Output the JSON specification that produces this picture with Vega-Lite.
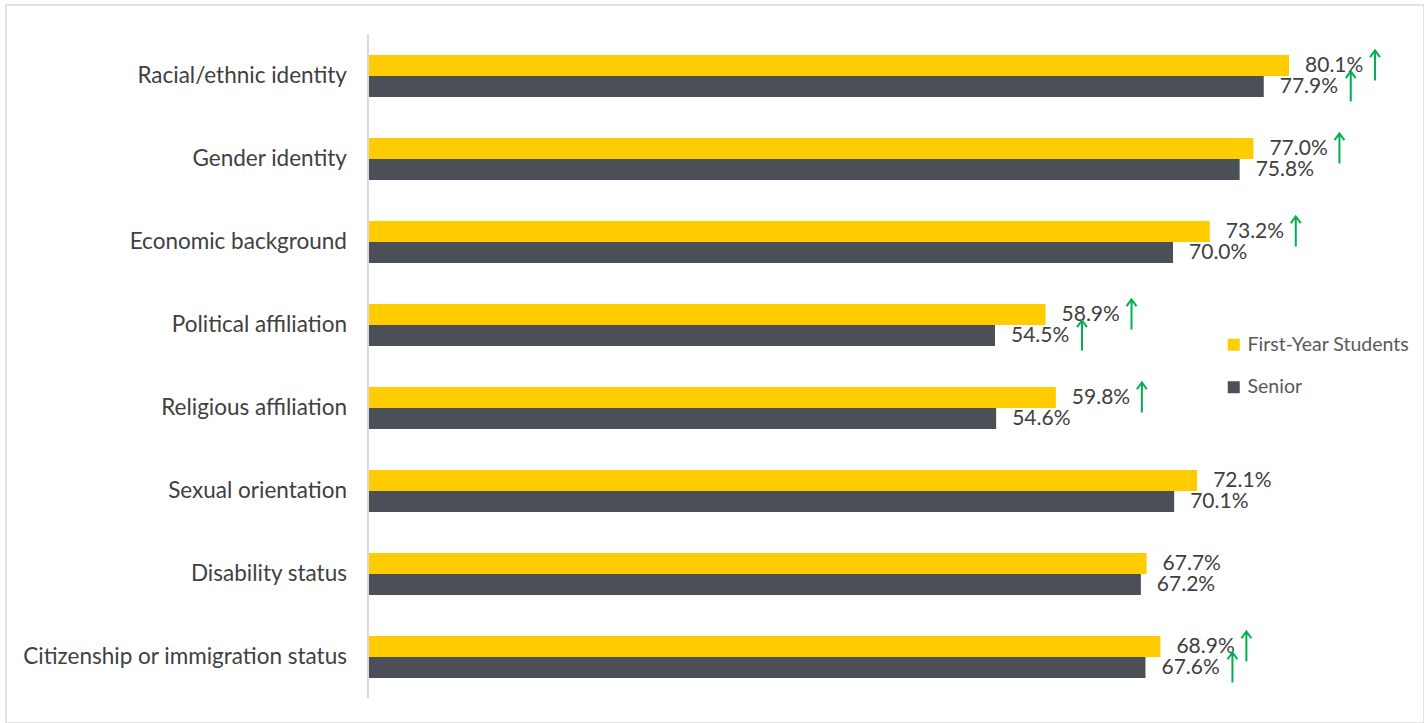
{
  "$schema": "https://vega.github.io/schema/vega-lite/v6.json",
  "width": 1418,
  "height": 718,
  "autosize": "none",
  "padding": {"left": 6, "top": 5, "right": 0, "bottom": 0},
  "background": "white",
  "config": {
    "view": {"stroke": "#D9D9D9", "strokeWidth": 1.5},
    "font": "Lato"
  },
  "data": {
    "values": [
      {"category": "Racial/ethnic identity", "group": "First-Year Students", "value": 0.801, "up": true},
      {"category": "Racial/ethnic identity", "group": "Senior", "value": 0.779, "up": true},
      {"category": "Gender identity", "group": "First-Year Students", "value": 0.770, "up": true},
      {"category": "Gender identity", "group": "Senior", "value": 0.758, "up": false},
      {"category": "Economic background", "group": "First-Year Students", "value": 0.732, "up": true},
      {"category": "Economic background", "group": "Senior", "value": 0.700, "up": false},
      {"category": "Political affiliation", "group": "First-Year Students", "value": 0.589, "up": true},
      {"category": "Political affiliation", "group": "Senior", "value": 0.545, "up": true},
      {"category": "Religious affiliation", "group": "First-Year Students", "value": 0.598, "up": true},
      {"category": "Religious affiliation", "group": "Senior", "value": 0.546, "up": false},
      {"category": "Sexual orientation", "group": "First-Year Students", "value": 0.721, "up": false},
      {"category": "Sexual orientation", "group": "Senior", "value": 0.701, "up": false},
      {"category": "Disability status", "group": "First-Year Students", "value": 0.677, "up": false},
      {"category": "Disability status", "group": "Senior", "value": 0.672, "up": false},
      {"category": "Citizenship or immigration status", "group": "First-Year Students", "value": 0.689, "up": true},
      {"category": "Citizenship or immigration status", "group": "Senior", "value": 0.676, "up": true}
    ]
  },
  "encoding": {
    "y": {
      "field": "category",
      "type": "nominal",
      "axis": null,
      "scale": {
        "domain": ["Racial/ethnic identity", "Gender identity", "Economic background", "Political affiliation", "Religious affiliation", "Sexual orientation", "Disability status", "Citizenship or immigration status"],
        "paddingInner": 0.494,
        "paddingOuter": 0.572,
        "align": 0.526
      }
    }
  },
  "layer": [
    {
      "mark": {"type": "bar"},
      "encoding": {
        "x": {"field": "value", "type": "quantitative", "axis": null, "scale": {"domain": [-0.316, 0.9185], "nice": false, "zero": false}},
        "yOffset": {"field": "group", "type": "nominal", "scale": {"domain": ["First-Year Students", "Senior"], "paddingInner": 0, "paddingOuter": 0}},
        "color": {
          "field": "group",
          "type": "nominal",
          "scale": {"domain": ["First-Year Students", "Senior"], "range": ["#FFCC00", "#4A4F58"]},
          "legend": {
            "orient": "none",
            "legendX": 1218,
            "legendY": 330,
            "title": null,
            "symbolType": "square",
            "symbolSize": 144,
            "symbolStrokeWidth": 0,
            "labelFont": "Lato",
            "labelFontSize": 19.5,
            "labelColor": "#595959",
            "labelOffset": 4,
            "labelLimit": 400,
            "rowPadding": 21.5,
            "padding": 0
          }
        }
      }
    },
    {
      "mark": {"type": "text", "align": "left", "baseline": "middle", "dx": 16, "dy": 1, "font": "Lato", "fontSize": 21, "color": "#404040"},
      "encoding": {
        "x": {"field": "value", "type": "quantitative"},
        "yOffset": {"field": "group", "type": "nominal"},
        "text": {"field": "value", "type": "quantitative", "format": ".1%"}
      }
    },
    {
      "transform": [{"filter": "datum.up && datum.group === 'First-Year Students'"}],
      "mark": {"type": "point", "shape": "M0,1L0,-1M-0.33,-0.55L0,-1L0.33,-0.55", "size": 900, "filled": false, "strokeWidth": 2, "color": "#00B050", "opacity": 1, "xOffset": 86, "yOffset": -2},
      "encoding": {
        "x": {"field": "value", "type": "quantitative"},
        "yOffset": {"field": "group", "type": "nominal"}
      }
    },
    {
      "transform": [{"filter": "datum.up && datum.group === 'Senior'"}],
      "mark": {"type": "point", "shape": "M0,1L0,-1M-0.33,-0.55L0,-1L0.33,-0.55", "size": 900, "filled": false, "strokeWidth": 2, "color": "#00B050", "opacity": 1, "xOffset": 87, "yOffset": 4},
      "encoding": {
        "x": {"field": "value", "type": "quantitative"},
        "yOffset": {"field": "group", "type": "nominal"}
      }
    },
    {
      "transform": [{"filter": "datum.group === 'First-Year Students'"}],
      "mark": {"type": "text", "align": "right", "baseline": "middle", "dx": -22, "font": "Lato", "fontSize": 22.5, "color": "#404040"},
      "encoding": {
        "x": {"datum": 0, "type": "quantitative"},
        "text": {"field": "category", "type": "nominal"}
      }
    },
    {
      "data": {"values": [{"top": "Racial/ethnic identity", "bottom": "Citizenship or immigration status"}]},
      "mark": {"type": "rule", "color": "#D9D9D9", "strokeWidth": 2, "xOffset": -1, "yOffset": -20.5, "y2Offset": 41.5},
      "encoding": {
        "x": {"datum": 0, "type": "quantitative"},
        "y": {"field": "top", "type": "nominal", "bandPosition": 0},
        "y2": {"field": "bottom"}
      }
    }
  ]
}
